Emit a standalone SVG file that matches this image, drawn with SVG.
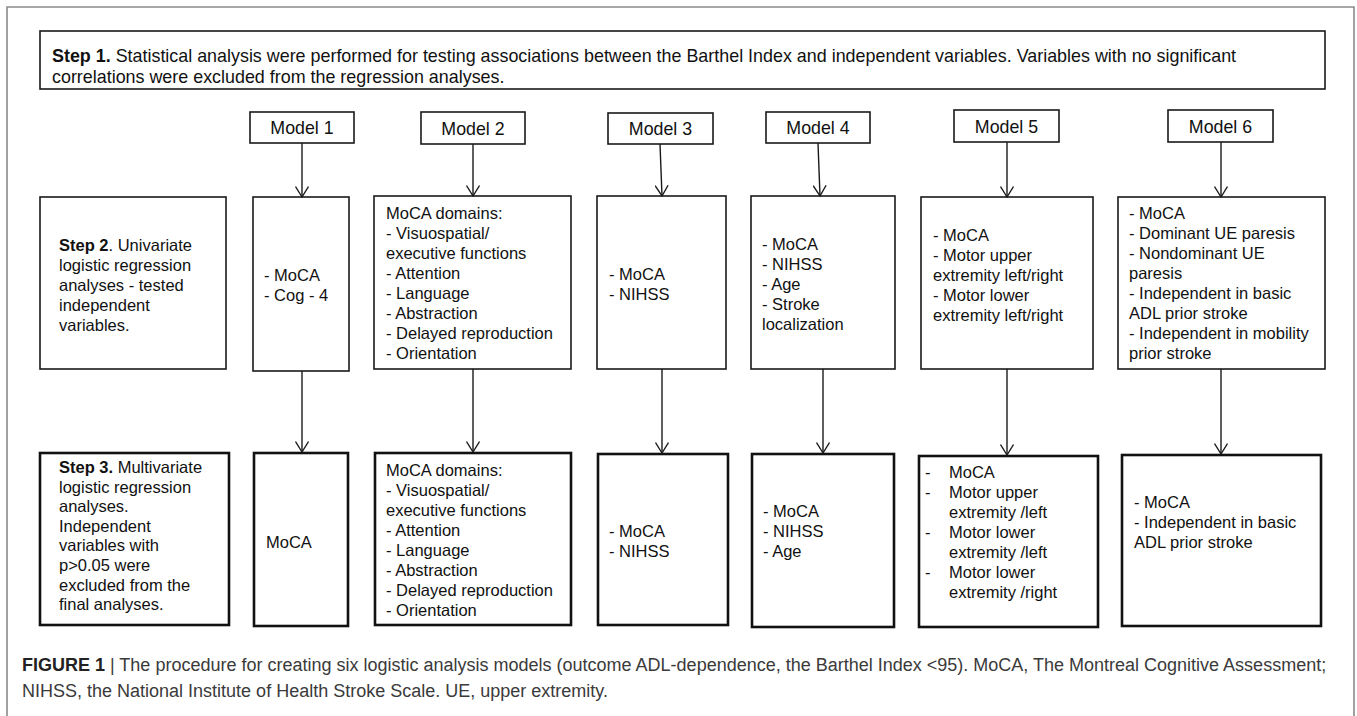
<svg xmlns="http://www.w3.org/2000/svg" width="1357" height="716" viewBox="0 0 1357 716">
<defs>
<marker id="arr" markerWidth="16" markerHeight="14" refX="12" refY="7" orient="auto" markerUnits="userSpaceOnUse">
<path d="M1.5,0.5 L12,7 L1.5,13.5" fill="none" stroke="#1a1a1a" stroke-width="1.4"/>
</marker>
</defs>
<style>
text{font-family:"Liberation Sans",Arial,sans-serif;fill:#111}
.t{font-size:16.5px}
.s1{font-size:17.9px}
.m{font-size:17.8px;text-anchor:middle}
.b{font-weight:bold}
.box{fill:#fff;stroke:#1a1a1a;stroke-width:1.6}
.box3{fill:#fff;stroke:#111;stroke-width:2.6}
.con{fill:none;stroke:#1a1a1a;stroke-width:1.4}
.cap{font-size:18px;fill:#3a3a3a}
</style>
<rect width="1357" height="716" fill="#fff"/>
<path d="M7,716 V7 H1354 V716" fill="none" stroke="#8a8a8a" stroke-width="1.6"/>

<g id="step1">
<rect class="box" x="40" y="31" width="1285" height="58"/>
<text class="s1" x="52" y="62"><tspan class="b">Step 1.</tspan> Statistical analysis were performed for testing associations between the Barthel Index and independent variables. Variables with no significant</text>
<text class="s1" x="52" y="83">correlations were excluded from the regression analyses.</text>
</g>

<g id="labels">
<g id="model1"><rect class="box" x="250" y="112" width="104" height="31"/><text class="m" x="302" y="134">Model 1</text></g>
<g id="model2"><rect class="box" x="421" y="112" width="104" height="32"/><text class="m" x="473" y="135">Model 2</text></g>
<g id="model3"><rect class="box" x="608" y="113" width="105" height="31"/><text class="m" x="660.5" y="135">Model 3</text></g>
<g id="model4"><rect class="box" x="766" y="112" width="104" height="31"/><text class="m" x="818" y="134">Model 4</text></g>
<g id="model5"><rect class="box" x="954" y="110" width="105" height="32"/><text class="m" x="1006.5" y="133">Model 5</text></g>
<g id="model6"><rect class="box" x="1168" y="110" width="105" height="32"/><text class="m" x="1220.5" y="133">Model 6</text></g>
</g>

<g id="step2">
<g id="step2-label"><rect class="box" x="40" y="197" width="186" height="172"/>
<text class="t" x="59" y="250.5"><tspan class="b">Step 2</tspan>. Univariate</text>
<text class="t" x="59" y="270.5">logistic regression</text>
<text class="t" x="59" y="290.5">analyses - tested</text>
<text class="t" x="59" y="310.5">independent</text>
<text class="t" x="59" y="330.5">variables.</text>
</g>
<g id="m1-s2"><rect class="box" x="253" y="197" width="96" height="174"/>
<text class="t" x="264" y="280.5">- MoCA</text>
<text class="t" x="264" y="300.5">- Cog - 4</text>
</g>
<g id="m2-s2"><rect class="box" x="374" y="196" width="197" height="173"/>
<text class="t" x="386" y="219">MoCA domains:</text>
<text class="t" x="386" y="239">- Visuospatial/</text>
<text class="t" x="386" y="259">executive functions</text>
<text class="t" x="386" y="279">- Attention</text>
<text class="t" x="386" y="299">- Language</text>
<text class="t" x="386" y="319">- Abstraction</text>
<text class="t" x="386" y="339">- Delayed reproduction</text>
<text class="t" x="386" y="359">- Orientation</text>
</g>
<g id="m3-s2"><rect class="box" x="597" y="196" width="129" height="173"/>
<text class="t" x="609" y="280">- MoCA</text>
<text class="t" x="609" y="300">- NIHSS</text>
</g>
<g id="m4-s2"><rect class="box" x="751" y="196" width="144" height="173"/>
<text class="t" x="762" y="250">- MoCA</text>
<text class="t" x="762" y="270">- NIHSS</text>
<text class="t" x="762" y="290">- Age</text>
<text class="t" x="762" y="310">- Stroke</text>
<text class="t" x="762" y="330">localization</text>
</g>
<g id="m5-s2"><rect class="box" x="921" y="197" width="172" height="172"/>
<text class="t" x="933" y="241">- MoCA</text>
<text class="t" x="933" y="261">- Motor upper</text>
<text class="t" x="933" y="281">extremity left/right</text>
<text class="t" x="933" y="301">- Motor lower</text>
<text class="t" x="933" y="321">extremity left/right</text>
</g>
<g id="m6-s2"><rect class="box" x="1118" y="197" width="207" height="172"/>
<text class="t" x="1129" y="219">- MoCA</text>
<text class="t" x="1129" y="239">- Dominant UE paresis</text>
<text class="t" x="1129" y="259">- Nondominant UE</text>
<text class="t" x="1129" y="279">paresis</text>
<text class="t" x="1129" y="299">- Independent in basic</text>
<text class="t" x="1129" y="319">ADL prior stroke</text>
<text class="t" x="1129" y="339">- Independent in mobility</text>
<text class="t" x="1129" y="359">prior stroke</text>
</g>
</g>

<g id="step3">
<g id="step3-label"><rect class="box3" x="40" y="453" width="189" height="172"/>
<text class="t" x="59" y="473"><tspan class="b">Step 3.</tspan> Multivariate</text>
<text class="t" x="59" y="492.6">logistic regression</text>
<text class="t" x="59" y="512.2">analyses.</text>
<text class="t" x="59" y="531.8">Independent</text>
<text class="t" x="59" y="551.4">variables with</text>
<text class="t" x="59" y="571">p&gt;0.05 were</text>
<text class="t" x="59" y="590.6">excluded from the</text>
<text class="t" x="59" y="610.2">final analyses.</text>
</g>
<g id="m1-s3"><rect class="box3" x="254" y="453" width="94" height="173"/>
<text class="t" x="266" y="548">MoCA</text>
</g>
<g id="m2-s3"><rect class="box3" x="375" y="453" width="196" height="172"/>
<text class="t" x="386" y="476">MoCA domains:</text>
<text class="t" x="386" y="496">- Visuospatial/</text>
<text class="t" x="386" y="516">executive functions</text>
<text class="t" x="386" y="536">- Attention</text>
<text class="t" x="386" y="556">- Language</text>
<text class="t" x="386" y="576">- Abstraction</text>
<text class="t" x="386" y="596">- Delayed reproduction</text>
<text class="t" x="386" y="616">- Orientation</text>
</g>
<g id="m3-s3"><rect class="box3" x="598" y="454" width="130" height="171"/>
<text class="t" x="609" y="537">- MoCA</text>
<text class="t" x="609" y="557">- NIHSS</text>
</g>
<g id="m4-s3"><rect class="box3" x="752" y="454" width="142" height="173"/>
<text class="t" x="763" y="517">- MoCA</text>
<text class="t" x="763" y="537">- NIHSS</text>
<text class="t" x="763" y="557">- Age</text>
</g>
<g id="m5-s3"><rect class="box3" x="919" y="456" width="179" height="171"/>
<text class="t" x="925" y="478">-</text><text class="t" x="949" y="478">MoCA</text>
<text class="t" x="925" y="498">-</text><text class="t" x="949" y="498">Motor upper</text>
<text class="t" x="949" y="518">extremity /left</text>
<text class="t" x="925" y="538">-</text><text class="t" x="949" y="538">Motor lower</text>
<text class="t" x="949" y="558">extremity /left</text>
<text class="t" x="925" y="578">-</text><text class="t" x="949" y="578">Motor lower</text>
<text class="t" x="949" y="598">extremity /right</text>
</g>
<g id="m6-s3"><rect class="box3" x="1122" y="455" width="199" height="171"/>
<text class="t" x="1134" y="508">- MoCA</text>
<text class="t" x="1134" y="528">- Independent in basic</text>
<text class="t" x="1134" y="548">ADL prior stroke</text>
</g>
</g>

<g id="connectors">
<line class="con" x1="302" y1="143" x2="302" y2="197" marker-end="url(#arr)"/>
<line class="con" x1="473" y1="144" x2="473" y2="196" marker-end="url(#arr)"/>
<line class="con" x1="660" y1="144" x2="662" y2="196" marker-end="url(#arr)"/>
<line class="con" x1="818" y1="143" x2="820" y2="196" marker-end="url(#arr)"/>
<line class="con" x1="1007" y1="142" x2="1007" y2="197" marker-end="url(#arr)"/>
<line class="con" x1="1221" y1="142" x2="1221" y2="197" marker-end="url(#arr)"/>
<line class="con" x1="302" y1="371" x2="302" y2="452" marker-end="url(#arr)"/>
<line class="con" x1="473" y1="369" x2="473" y2="452" marker-end="url(#arr)"/>
<line class="con" x1="662" y1="369" x2="662" y2="453" marker-end="url(#arr)"/>
<line class="con" x1="823" y1="369" x2="823" y2="453" marker-end="url(#arr)"/>
<line class="con" x1="1007" y1="369" x2="1007" y2="455" marker-end="url(#arr)"/>
<line class="con" x1="1221" y1="369" x2="1221" y2="454" marker-end="url(#arr)"/>
</g>

<g id="caption">
<text class="cap" x="22" y="671"><tspan class="b" fill="#222">FIGURE 1</tspan> | The procedure for creating six logistic analysis models (outcome ADL-dependence, the Barthel Index &lt;95). MoCA, The Montreal Cognitive Assessment;</text>
<text class="cap" x="22" y="697">NIHSS, the National Institute of Health Stroke Scale. UE, upper extremity.</text>
</g>
</svg>
